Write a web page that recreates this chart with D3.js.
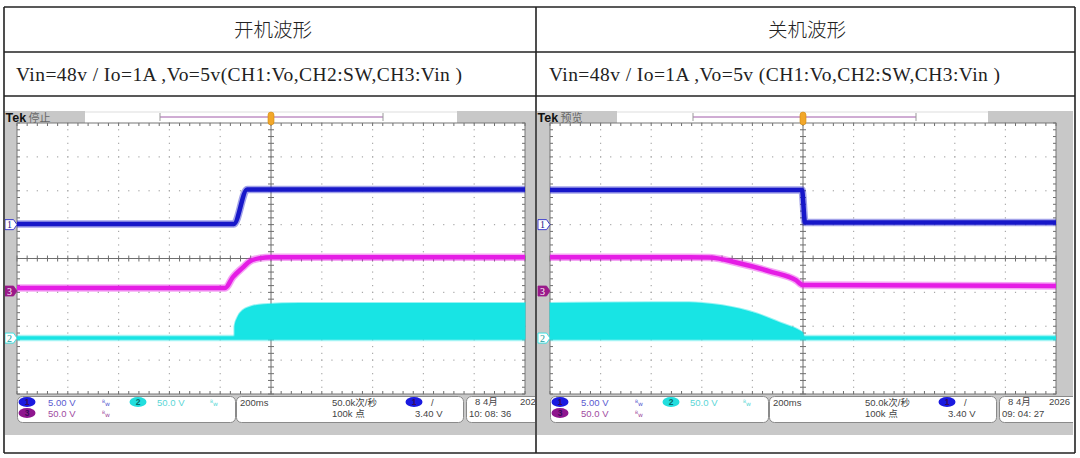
<!DOCTYPE html>
<html>
<head>
<meta charset="utf-8">
<script src="https://cdn.jsdelivr.net/npm/d3@7"></script>
<style>
  body { margin: 0; background: #fff; }
  svg { display: block; }
</style>
</head>
<body>
<script>
// ---- text ----
var titles = ["开机波形", "关机波形"];
var conditions = ["Vin=48v / Io=1A ,Vo=5v(CH1:Vo,CH2:SW,CH3:Vin )",
                  "Vin=48v / Io=1A ,Vo=5v (CH1:Vo,CH2:SW,CH3:Vin )"];
var runStates = ["停止", "预览"];
var chLabels = ["1", "2", "3"];
var chScaleText = ["5.00 V", "50.0 V", "50.0 V"];
var timeDivText = "200ms", rateText = "50.0k次/秒", pointsText = "100k 点", trigText = "3.40 V";
var dateText = ["8 4月", "8 4月"], yearText = "2026", clockText = ["10: 08: 36", "09: 04: 27"];

// ---- waveforms: time in ms from trigger, values in volts ----
// power on
var onVoT  = [-1000, -146, -94, 1000];
var onVoV  = [0.1, 0.1, 5.2, 5.2];
var onVinT = [-1000, -181, -150, -110, -83, -43, 0, 1000];
var onVinV = [4.4, 4.4, 20.6, 35, 44, 48.5, 50, 50];
var onSwT  = [-1000, -144, -144, -132, -112, -78, -30, 114, 1000];
var onSwV  = [0, 0, 17, 31, 41, 47, 50, 52, 52];
// power off
var offVoT  = [-1000, -4, 8, 1000];
var offVoV  = [5.1, 5.1, 0.3, 0.3];
var offVinT = [-1000, -449, -370, -252, -122, -28, 0, 1000];
var offVinV = [50, 50, 49.5, 41, 28, 16, 8.8, 7.4];
var offSwT  = [-1000, -600, -449, -398, -319, -185, -83, -16, 0, 4, 1000];
var offSwV  = [52, 53, 53, 52, 48.5, 36.8, 22, 11.8, 7.4, 0, 0];

var W = 1080, H = 458;
var gTop = 123, gBot = 394;

var chans = [
  {vpd: 5,  off: 1.0,   color: "#1717c9", fill: "#1a1ae0", txt: "#5a5ad0", tag: "#fff"},
  {vpd: 50, off: -2.35, color: "#18e4e4", fill: "#22dede", txt: "#5cd6d6", tag: "#fff"},
  {vpd: 50, off: -0.96, color: "#e51de5", fill: "#8e168e", txt: "#a04aa0", tag: "#9a1a8a"}
];

var panels = [
  {left: 5, right: 535, gx0: 17, gx1: 525, whiteEnd: 457, state: runStates[0], condLen: 446, yearX: 503,
   title: titles[0], cond: conditions[0], date: dateText[0], clock: clockText[0],
   vo: [onVoT, onVoV], vin: [onVinT, onVinV], sw: [onSwT, onSwV]},
  {left: 537, right: 1073, gx0: 550, gx1: 1056, whiteEnd: 988, state: runStates[1], condLen: 451, yearX: 499,
   title: titles[1], cond: conditions[1], date: dateText[1], clock: clockText[1],
   vo: [offVoT, offVoV], vin: [offVinT, offVinV], sw: [offSwT, offSwV]}
];

var svg = d3.select("body").append("svg").attr("width", W).attr("height", H);

function zip(a) { return a[0].map(function (t, i) { return [t, a[1][i]]; }); }

function drawScope(p, idx) {
  var g = svg.append("g");
  var clipId = "clip" + idx;
  svg.append("clipPath").attr("id", clipId)
    .append("rect").attr("x", p.left).attr("y", 111).attr("width", p.right - p.left).attr("height", 324);
  g.attr("clip-path", "url(#" + clipId + ")");

  var x = d3.scaleLinear().domain([-1000, 1000]).range([p.gx0, p.gx1]);
  var ys = chans.map(function (c) {
    return d3.scaleLinear().domain([(-4 - c.off) * c.vpd, (4 - c.off) * c.vpd]).range([gBot, gTop]);
  });
  var div = d3.scaleLinear().domain([-4, 4]).range([gBot, gTop]);
  var cx = x(0), cy = div(0);

  // frame background
  g.append("rect").attr("x", p.left).attr("y", 111).attr("width", p.right - p.left).attr("height", 324).attr("fill", "#c8c8c8");
  g.append("rect").attr("x", p.left + 80).attr("y", 111).attr("width", p.whiteEnd - p.left - 80).attr("height", 12).attr("fill", "#fff");
  g.append("rect").attr("x", p.gx0).attr("y", gTop).attr("width", p.gx1 - p.gx0).attr("height", gBot - gTop).attr("fill", "#fff");

  // top bar
  var tk = g.append("text").attr("x", p.left + 0.5).attr("y", 122).attr("font-family", "Liberation Sans, Arial, sans-serif").attr("font-size", 12.5);
  tk.append("tspan").attr("font-weight", "bold").attr("fill", "#111").text("Tek");
  tk.append("tspan").attr("fill", "#666").attr("font-family", "Noto Sans CJK SC").attr("font-size", 11).text(" " + p.state);
  var r0 = p.gx0 + 143, r1 = r0 + 223;
  g.append("line").attr("x1", r0).attr("x2", r1).attr("y1", 117).attr("y2", 117).attr("stroke", "#a05aa8").attr("stroke-width", 1);
  [r0, r1].forEach(function (rx) {
    g.append("line").attr("x1", rx).attr("x2", rx).attr("y1", 113).attr("y2", 121).attr("stroke", "#999");
  });
  g.append("line").attr("x1", p.left + 80).attr("x2", p.whiteEnd).attr("y1", 112).attr("y2", 112).attr("stroke", "#ddd");

  // dotted grid
  var minorX = d3.range(-25, 26).map(function (i) { return i / 5; });
  var minorY = d3.range(-20, 21).map(function (i) { return i / 5; });
  var dots = [];
  d3.range(-4, 5).forEach(function (i) { if (i) minorY.forEach(function (j) { dots.push([i, j]); }); });
  d3.range(-3, 4).forEach(function (j) { if (j) minorX.forEach(function (i) { dots.push([i, j]); }); });
  var gx = d3.scaleLinear().domain([-5, 5]).range([p.gx0, p.gx1]);
  g.append("g").selectAll("rect").data(dots).join("rect")
    .attr("x", function (d) { return gx(d[0]) - 0.6; })
    .attr("y", function (d) { return div(d[1]) - 0.6; })
    .attr("width", 1.2).attr("height", 1.2).attr("fill", "#a8a8a8");

  // center cross and edge ticks
  var axisCol = "#6e6e6e";
  g.append("line").attr("x1", p.gx0).attr("x2", p.gx1).attr("y1", cy).attr("y2", cy).attr("stroke", axisCol);
  g.append("line").attr("x1", cx).attr("x2", cx).attr("y1", gTop).attr("y2", gBot).attr("stroke", axisCol);
  var tg = g.append("g").attr("stroke", axisCol).attr("stroke-width", 1);
  minorX.forEach(function (i) {
    var xx = gx(i);
    tg.append("line").attr("x1", xx).attr("x2", xx).attr("y1", cy - 3).attr("y2", cy + 3);
    tg.append("line").attr("x1", xx).attr("x2", xx).attr("y1", gTop).attr("y2", gTop + 3);
    tg.append("line").attr("x1", xx).attr("x2", xx).attr("y1", gBot - 3).attr("y2", gBot);
  });
  minorY.forEach(function (j) {
    var yy = div(j);
    tg.append("line").attr("x1", cx - 3).attr("x2", cx + 3).attr("y1", yy).attr("y2", yy);
    tg.append("line").attr("x1", p.gx0).attr("x2", p.gx0 + 3).attr("y1", yy).attr("y2", yy);
    tg.append("line").attr("x1", p.gx1 - 3).attr("x2", p.gx1).attr("y1", yy).attr("y2", yy);
  });
  g.append("rect").attr("x", p.gx0).attr("y", gTop).attr("width", p.gx1 - p.gx0).attr("height", gBot - gTop)
    .attr("fill", "none").attr("stroke", "#777").attr("stroke-width", 1);

  // traces (a soft halo under each stroke stands in for the scope's noise band)
  var tr = g.append("g");
  var sw = zip(p.sw);
  tr.append("path").datum(sw)
    .attr("d", d3.area().x(function (d) { return x(d[0]); }).y0(ys[1](0)).y1(function (d) { return ys[1](d[1]); }).curve(d3.curveMonotoneX))
    .attr("fill", chans[1].color).attr("stroke", chans[1].color).attr("stroke-opacity", 0.45).attr("stroke-width", 2);
  tr.append("line").attr("x1", p.gx0).attr("x2", p.gx1).attr("y1", ys[1](0)).attr("y2", ys[1](0))
    .attr("stroke", chans[1].color).attr("stroke-opacity", 0.4).attr("stroke-width", 6.5);
  tr.append("line").attr("x1", p.gx0).attr("x2", p.gx1).attr("y1", ys[1](0)).attr("y2", ys[1](0))
    .attr("stroke", chans[1].color).attr("stroke-width", 3.5);
  var line = function (ys) {
    return d3.line().x(function (d) { return x(d[0]); }).y(function (d) { return ys(d[1]); }).curve(d3.curveMonotoneX);
  };
  [[p.vin, 2], [p.vo, 0]].forEach(function (s) {
    var d = zip(s[0]), c = chans[s[1]], ln = line(ys[s[1]]);
    tr.append("path").datum(d).attr("d", ln).attr("fill", "none")
      .attr("stroke", c.color).attr("stroke-opacity", 0.4).attr("stroke-width", 7.5);
    tr.append("path").datum(d).attr("d", ln).attr("fill", "none")
      .attr("stroke", c.color).attr("stroke-width", 4.5);
  });

  // trigger marker
  g.append("rect").attr("x", cx - 3).attr("y", 112).attr("width", 6).attr("height", 13).attr("rx", 3)
    .attr("fill", "#f2a72a").attr("stroke", "#d08a10").attr("stroke-width", 0.6);

  // channel ground markers
  [0, 2, 1].forEach(function (ci) {
    var c = chans[ci], yy = ys[ci](0), x0 = p.gx0 - 12;
    g.append("path")
      .attr("d", "M" + x0 + "," + (yy - 5) + "h8.5l3.5,5l-3.5,5h-8.5z")
      .attr("fill", c.tag).attr("stroke", ci === 2 ? c.tag : c.color).attr("stroke-width", 0.8);
    g.append("text").attr("x", x0 + 4.5).attr("y", yy + 3.6).attr("text-anchor", "middle")
      .attr("font-family", "Liberation Serif, serif").attr("font-size", 10)
      .attr("fill", ci === 2 ? "#fff" : (ci === 0 ? "#1a1a8a" : "#20a0a0")).text(chLabels[ci]);
  });

  // status bar
  var b = p.gx0, sy = 396, sh = 26;
  [[b, 218], [b + 219, 227], [b + 449, 110]].forEach(function (bx) {
    g.append("rect").attr("x", bx[0] + 0.5).attr("y", sy + 0.5).attr("width", bx[1]).attr("height", sh)
      .attr("rx", 5).attr("fill", "#fff").attr("stroke", "#8a8a8a").attr("stroke-width", 1);
  });
  var font = "Liberation Sans, Noto Sans CJK SC, sans-serif";
  function badge(xc, yc, ci) {
    var c = chans[ci];
    g.append("ellipse").attr("cx", xc).attr("cy", yc).attr("rx", 8.5).attr("ry", 5).attr("fill", c.fill);
    g.append("text").attr("x", xc).attr("y", yc + 3).attr("text-anchor", "middle").attr("font-family", "Liberation Sans")
      .attr("font-size", 8.5).attr("font-weight", "bold").attr("fill", ci === 1 ? "#0a6a6a" : "#3a0a5a").text(chLabels[ci]);
  }
  function bw(xx, yy, col) {
    var t = g.append("text").attr("x", xx).attr("y", yy).attr("font-family", "DejaVu Sans").attr("fill", col);
    t.append("tspan").attr("font-size", 4.5).attr("dy", -3).text("B");
    t.append("tspan").attr("font-size", 6).attr("dy", 3).text("w");
  }
  function txt(xx, yy, s, col) {
    g.append("text").attr("x", xx).attr("y", yy).attr("font-family", font).attr("font-size", 9.5)
      .attr("fill", col).text(s);
  }
  badge(b + 10, 402, 0); txt(b + 31, 405.5, chScaleText[0], chans[0].txt); bw(b + 85, 405.5, chans[0].txt);
  badge(b + 121, 402, 1); txt(b + 140, 405.5, chScaleText[1], chans[1].txt); bw(b + 193, 405.5, chans[1].txt);
  badge(b + 10, 413, 2); txt(b + 31, 417, chScaleText[2], chans[2].txt); bw(b + 85, 417, chans[2].txt);
  txt(b + 223, 405.5, timeDivText, "#444");
  txt(b + 315, 405.5, rateText, "#444");
  txt(b + 315, 417, pointsText, "#444");
  badge(b + 397, 402, 0);
  txt(b + 414, 405.5, "/", "#444");
  txt(b + 398, 417, trigText, "#444");
  txt(b + 458, 405, p.date, "#444");
  txt(b + p.yearX, 405, yearText, "#444");
  txt(b + 452, 417, p.clock, "#444");
}

// table text
var tFont = "Liberation Serif, Times New Roman, serif";
panels.forEach(function (p, i) {
  var mid = i === 0 ? 273 : 807;
  svg.append("text").attr("x", mid).attr("y", 37).attr("text-anchor", "middle")
    .attr("font-family", "Noto Sans CJK SC").attr("font-weight", 300).attr("font-size", 19.5).attr("fill", "#222").text(p.title);
  svg.append("text").attr("x", p.gx0 - 1).attr("y", 81).attr("font-family", tFont).attr("font-size", 19.5)
    .attr("textLength", p.condLen).attr("lengthAdjust", "spacing")
    .attr("fill", "#222").text(p.cond);
  drawScope(p, i);
});

// table grid
var tg = svg.append("g").attr("stroke", "#222").attr("stroke-width", 1.6).attr("fill", "none");
[7, 52, 96, 453].forEach(function (yy) { tg.append("line").attr("x1", 4).attr("x2", 1075).attr("y1", yy).attr("y2", yy); });
[4, 536, 1075].forEach(function (xx) { tg.append("line").attr("x1", xx).attr("x2", xx).attr("y1", 7).attr("y2", 453); });
</script>
</body>
</html>
